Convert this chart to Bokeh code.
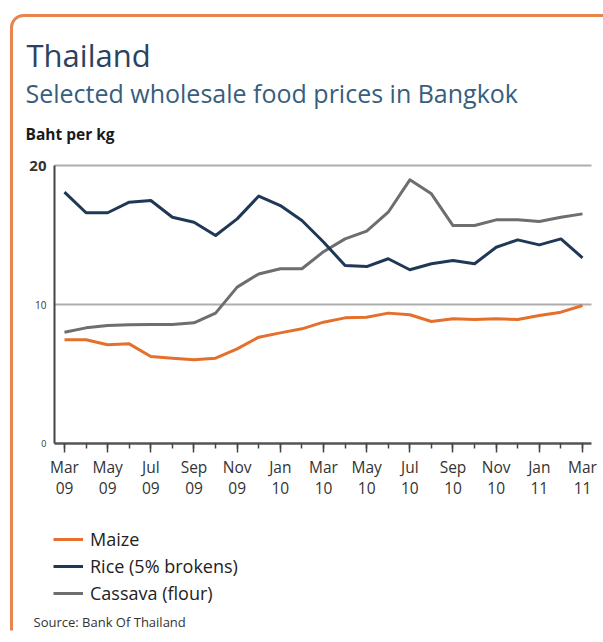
from bokeh.plotting import figure
from bokeh.models import Range1d, FixedTicker, Label, Legend, LegendItem, BoxAnnotation
from bokeh.embed import file_html
from bokeh.resources import INLINE

# ---- data ----
months = ["Mar 09", "Apr 09", "May 09", "Jun 09", "Jul 09", "Aug 09", "Sep 09", "Oct 09",
          "Nov 09", "Dec 09", "Jan 10", "Feb 10", "Mar 10", "Apr 10", "May 10", "Jun 10",
          "Jul 10", "Aug 10", "Sep 10", "Oct 10", "Nov 10", "Dec 10", "Jan 11", "Feb 11", "Mar 11"]
maize = [7.46, 7.46, 7.10, 7.17, 6.26, 6.14, 6.02, 6.14, 6.81, 7.65, 7.96, 8.25, 8.73,
         9.04, 9.09, 9.38, 9.26, 8.78, 8.97, 8.92, 8.97, 8.92, 9.21, 9.45, 9.93]
rice = [18.08, 16.60, 16.60, 17.36, 17.48, 16.28, 15.92, 14.96, 16.16, 17.80, 17.12, 16.04, 14.50,
        12.80, 12.73, 13.29, 12.50, 12.93, 13.17, 12.93, 14.12, 14.65, 14.29, 14.72, 13.36]
cassava = [8.00, 8.32, 8.49, 8.54, 8.56, 8.56, 8.68, 9.38, 11.25, 12.20, 12.57, 12.57, 13.80,
           14.72, 15.28, 16.64, 18.97, 17.96, 15.68, 15.68, 16.09, 16.09, 15.97, 16.28, 16.52]
xtick_pos = [0, 2, 4, 6, 8, 10, 12, 14, 16, 18, 20, 22, 24]
xtick_labels = ["Mar\n09", "May\n09", "Jul\n09", "Sep\n09", "Nov\n09", "Jan\n10", "Mar\n10",
                "May\n10", "Jul\n10", "Sep\n10", "Nov\n10", "Jan\n11", "Mar\n11"]
ytick_vals = [0, 10, 20]
ytick_labels = ["0", "10", "20"]
series_names = ["Maize", "Rice (5% brokens)", "Cassava (flour)"]

title_text = "Thailand"
subtitle_text = "Selected wholesale food prices in Bangkok"
unit_text = "Baht per kg"
source_text = "Source: Bank Of Thailand"

FONT = "Open Sans"
x = list(range(len(months)))

# chart-area geometry (data units)
X0, X1 = -2.965, 24.973          # visible x span of the canvas
Y0, Y1 = -13.453, 31.871         # visible y span of the canvas
AX_X = -0.4633                   # where the value axis sits
AX_XEND = 24.417                 # right end of axis / grid lines
FB = 630                         # frame bottom (px from top)


def sy(page_baseline, size):
    """screen y (from frame bottom) of a text's middle, given its baseline on the page"""
    return FB - (page_baseline - 0.388 * size)


p = figure(width=603, height=642, output_backend="svg", toolbar_location=None,
           x_range=Range1d(X0, X1), y_range=Range1d(Y0, Y1),
           min_border_left=0, min_border_right=0, min_border_top=0, min_border_bottom=12)
p.outline_line_color = None
p.background_fill_color = "#FFFFFF"
p.border_fill_color = "#FFFFFF"

# card border
card = BoxAnnotation(left=11, right=640, top=FB - 15, bottom=FB - 641,
                     left_units="screen", right_units="screen",
                     top_units="screen", bottom_units="screen",
                     fill_color=None, fill_alpha=0, line_color="#E8854E", line_alpha=1.0,
                     line_width=3, border_radius=12, level="underlay")
p.add_layout(card)

# grid
p.xgrid.visible = False
p.ygrid.ticker = FixedTicker(ticks=[10, 20])
p.ygrid.grid_line_color = "#ADADAD"
p.ygrid.grid_line_width = 2
try:
    p.ygrid.cross_bounds = (AX_X, AX_XEND)
except Exception:
    p.ygrid.visible = False
    p.segment(x0=[AX_X, AX_X], y0=[10, 20], x1=[AX_XEND, AX_XEND], y1=[10, 20],
              line_color="#ADADAD", line_width=2)

# x axis (at y = 0)
xa = p.xaxis[0]
xa.fixed_location = 0
xa.bounds = (AX_X, AX_XEND)
xa.ticker = FixedTicker(ticks=xtick_pos, minor_ticks=x)
xa.major_label_overrides = {pos: "" for pos in xtick_pos}
xa.major_label_text_font_size = "1px"
xa.major_label_standoff = 0
xa.axis_line_color = "#555555"
xa.axis_line_width = 2.5
xa.major_tick_in = 0
xa.major_tick_out = 9
xa.minor_tick_in = 0
xa.minor_tick_out = 5
xa.major_tick_line_color = "#444444"
xa.major_tick_line_width = 1.5
xa.minor_tick_line_color = "#444444"
xa.minor_tick_line_width = 1.5

# y axis
ya = p.yaxis[0]
ya.fixed_location = AX_X
ya.bounds = (0, 20)
ya.ticker = FixedTicker(ticks=[])
ya.axis_line_color = "#444444"
ya.axis_line_width = 2
ya.major_tick_out = 0
ya.major_tick_in = 0
ya.minor_tick_out = 0
ya.minor_tick_in = 0
ya.major_label_standoff = 0

ysizes = {"0": "9px", "10": "10px", "20": "15px"}
for v, t in zip(ytick_vals, ytick_labels):
    p.add_layout(Label(x=AX_X, y=v, x_offset=-8, text=t,
                       text_align="right", text_baseline="middle",
                       text_font=FONT, text_font_size=ysizes[t],
                       text_font_style="bold" if t == "20" else "normal",
                       text_color="#333333"))

# month tick labels (two lines)
XFS = 15.5
for pos, lab in zip(xtick_pos, xtick_labels):
    top, bottom = lab.split("\n")
    p.add_layout(Label(x=pos, y=sy(473, XFS), y_units="screen", text=top, text_align="center",
                       text_baseline="middle", text_font=FONT, text_font_size=f"{XFS}px",
                       text_color="#333333"))
    p.add_layout(Label(x=pos, y=sy(493.5, XFS), y_units="screen", text=bottom, text_align="center",
                       text_baseline="middle", text_font=FONT, text_font_size=f"{XFS}px",
                       text_color="#333333"))

# lines
r_cas = p.line(x, cassava, line_color="#6E6E6E", line_width=3, line_join="round")
r_rice = p.line(x, rice, line_color="#1F3856", line_width=3, line_join="round")
r_maize = p.line(x, maize, line_color="#E4702C", line_width=3, line_join="round")

legend = Legend(items=[LegendItem(label=series_names[0], renderers=[r_maize]),
                       LegendItem(label=series_names[1], renderers=[r_rice]),
                       LegendItem(label=series_names[2], renderers=[r_cas])],
                location=(53, FB - 605), orientation="vertical",
                glyph_width=30, glyph_height=24, label_height=24, spacing=3,
                label_standoff=7, padding=0, margin=0,
                border_line_color=None, background_fill_alpha=0,
                label_text_font=FONT, label_text_font_size="18px",
                label_text_color="#222222")
p.add_layout(legend)

# titles / notes
p.add_layout(Label(x=26, y=sy(67, 31), x_units="screen", y_units="screen", text=title_text,
                   text_font=FONT, text_font_size="31px", text_color="#2C4260",
                   text_baseline="middle"))
p.add_layout(Label(x=25, y=sy(102, 25), x_units="screen", y_units="screen", text=subtitle_text,
                   text_font=FONT, text_font_size="25px", text_color="#385E7E",
                   text_baseline="middle"))
p.add_layout(Label(x=25, y=sy(140, 15.5), x_units="screen", y_units="screen", text=unit_text,
                   text_font=FONT, text_font_size="15.5px", text_font_style="bold",
                   text_color="#1A1A1A", text_baseline="middle"))
p.add_layout(Label(x=33, y=sy(627, 13), x_units="screen", y_units="screen", text=source_text,
                   text_font=FONT, text_font_size="13px", text_color="#333333",
                   text_baseline="middle"))

open("out.html", "w").write(file_html(p, INLINE))
